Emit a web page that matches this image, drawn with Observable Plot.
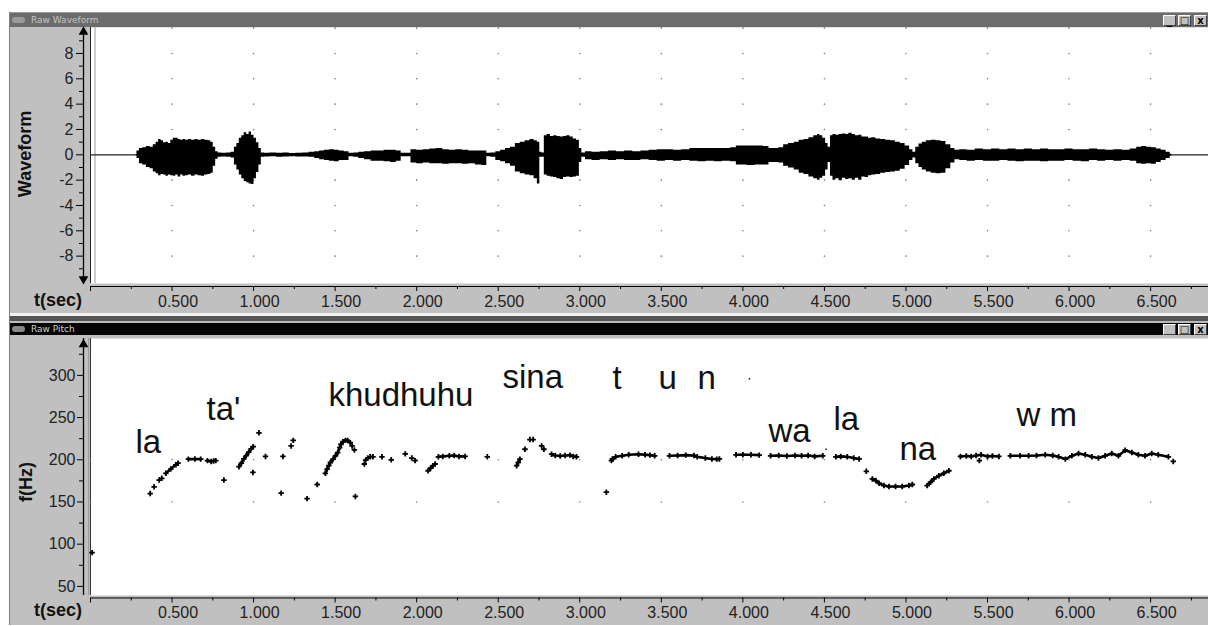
<!DOCTYPE html>
<html><head><meta charset="utf-8">
<script src="https://cdn.jsdelivr.net/npm/d3@7"></script>
<script src="https://cdn.jsdelivr.net/npm/@observablehq/plot@0.6"></script>
<style>
html,body{margin:0;padding:0;background:#fff}
body{width:1208px;height:626px;overflow:hidden;position:relative;font-family:"Liberation Sans",Arial,sans-serif}
.abs{position:absolute}
.tbar{position:absolute;left:10px;width:1198px;height:15px;overflow:hidden}
.ttxt{position:absolute;left:21px;top:1px;font-size:9px;line-height:13px;font-family:"DejaVu Sans",sans-serif}
.ico{position:absolute;left:2px;top:4px;width:13px;height:6px;background:#9a9a9a;border-radius:3px}
.btn{position:absolute;top:2px;width:13px;height:11px;background:#c0c0c0;border-top:1px solid #fff;border-left:1px solid #fff;border-right:1px solid #404040;border-bottom:1px solid #404040;box-sizing:border-box;font:bold 10px/9px "DejaVu Sans",sans-serif;color:#000;text-align:center}
.lab{position:absolute;font-weight:bold;font-size:18px;color:#111;white-space:nowrap}
.rot{transform:translate(-50%,-50%) rotate(-90deg)}
</style></head><body>
<div class="abs" style="left:9px;top:12px;width:1px;height:613px;background:#808080"></div>
<div class="abs" style="left:10px;top:12px;width:1198px;height:613px;background:#c0c0c0"></div>
<div class="tbar" style="top:12px;background:#6c6c6c;border-top:1px solid #9c9c9c;box-sizing:border-box">
  <div class="ico"></div><div class="ttxt" style="color:#c4c4c4">Raw Waveform</div>
  <div class="btn" style="left:1153px">_</div><div class="btn" style="left:1168px">□</div><div class="btn" style="left:1184px">x</div>
</div>
<div id="top" class="abs" style="left:10px;top:27px"></div>
<div class="abs" style="left:10px;top:313px;width:1198px;height:3px;background:#f2f2f2"></div>
<div class="abs" style="left:10px;top:316px;width:1198px;height:5px;background:#555"></div>
<div class="abs" style="left:10px;top:321px;width:1198px;height:2px;background:#bbb"></div>
<div class="tbar" style="top:323px;height:12px;background:#050505">
  <div class="ico" style="top:3px;background:#888"></div><div class="ttxt" style="color:#d0d0d0;top:0px;line-height:12px">Raw Pitch</div>
  <div class="btn" style="left:1153px;top:1px">_</div><div class="btn" style="left:1168px;top:1px">□</div><div class="btn" style="left:1184px;top:1px">x</div>
</div>
<div id="bot" class="abs" style="left:10px;top:335px"></div>
<div class="lab rot" style="left:25px;top:154px">Waveform</div>
<div class="lab" style="left:0;width:82px;text-align:right;top:289px;line-height:22px">t(sec)</div>
<div class="lab rot" style="left:26px;top:482px">f(Hz)</div>
<div class="lab" style="left:0;width:82px;text-align:right;top:599px;line-height:22px">t(sec)</div>
<script>
// ---------- axes / ticks ----------
const xDomain = [0, 6.855];
const xTickValues = [0.5, 1.0, 1.5, 2.0, 2.5, 3.0, 3.5, 4.0, 4.5, 5.0, 5.5, 6.0, 6.5];
const xTickText = ["0.500","1.000","1.500","2.000","2.500","3.000","3.500","4.000","4.500","5.000","5.500","6.000","6.500"];
const xMajorMarks = [0, 0.5, 1.0, 1.5, 2.0, 2.5, 3.0, 3.5, 4.0, 4.5, 5.0, 5.5, 6.0, 6.5];
const xMinorMarks = [0.25, 0.75, 1.25, 1.75, 2.25, 2.75, 3.25, 3.75, 4.25, 4.75, 5.25, 5.75, 6.25, 6.75];

const waveDomain = [-10.16, 10.05];
const waveTickValues = [-8, -6, -4, -2, 0, 2, 4, 6, 8];
const waveMinorTicks = [-9, -7, -5, -3, -1, 1, 3, 5, 7, 9];
const waveGridX = [0.5, 1.0, 1.5, 2.0, 2.5, 3.0, 3.5, 4.0, 4.5, 5.0, 5.5, 6.0, 6.5];
const waveGridY = [10, 8, 6, 4, 2, -2, -4, -6, -8];

const pitchDomain = [39.2, 343.7];
const pitchTickValues = [50, 100, 150, 200, 250, 300];
const pitchMinorTicks = [75, 125, 175, 225, 275, 325];
const pitchGridX = [0, 0.5, 1.0, 1.5, 2.0, 2.5, 3.0, 3.5, 4.0, 4.5, 5.0, 5.5, 6.0, 6.5];
const pitchGridY = [150, 200];

// ---------- waveform envelope (seconds, upper, lower) ----------
const waveTime = [0.28,0.29,0.31,0.33,0.355,0.375,0.395,0.41,0.425,0.44,0.455,0.47,0.485,0.50,0.515,0.53,0.545,0.56,0.575,0.59,0.61,0.63,0.65,0.67,0.69,0.71,0.73,0.745,0.76,0.775,
0.79,0.82,0.85,0.875,0.89,0.905,0.92,0.935,0.95,0.965,0.98,0.995,1.01,1.025,1.04,1.055,
1.08,1.12,1.16,1.20,1.24,1.28,1.32,1.36,1.39,1.42,1.45,1.48,1.51,1.54,1.57,1.60,
1.63,1.66,1.70,1.74,1.78,1.82,1.86,1.89,1.92,1.95,1.98,2.02,2.06,2.10,2.14,2.18,2.22,2.26,2.30,2.34,2.38,2.42,2.44,2.47,
2.50,2.53,2.56,2.59,2.62,2.65,2.68,2.71,2.73,2.75,2.76,2.775,2.79,2.81,2.83,2.85,2.87,2.89,2.91,2.93,2.95,2.97,2.99,3.005,3.02,
3.05,3.10,3.15,3.20,3.25,3.30,3.35,3.40,3.45,3.50,3.55,3.60,3.65,3.70,3.75,3.80,3.85,3.90,3.95,3.97,4.00,4.05,4.10,4.15,4.17,4.20,4.24,
4.26,4.30,4.33,4.36,4.39,4.42,4.45,4.465,4.48,4.50,4.515,4.53,4.545,4.56,4.58,4.60,4.62,4.64,4.66,4.68,4.70,4.72,4.74,4.76,4.78,4.80,4.83,4.86,4.89,4.92,4.95,4.98,5.01,5.035,5.05,
5.07,5.09,5.11,5.14,5.17,5.20,5.23,5.26,5.29,5.31,
5.35,5.40,5.45,5.50,5.55,5.60,5.65,5.70,5.75,5.80,5.85,5.90,5.95,6.00,6.05,6.10,6.15,6.20,6.25,6.30,6.35,6.40,6.43,6.46,6.49,6.52,6.55,6.58,6.61,6.63];
const waveMax = [0.05,0.3,0.5,0.55,0.65,0.6,0.8,1.0,1.2,1.1,0.95,1.0,0.9,1.15,1.3,1.3,1.2,1.15,1.2,1.15,1.2,1.15,1.2,1.15,1.2,1.15,1.1,1.0,0.6,0.25,
0.15,0.12,0.15,0.2,0.6,0.9,1.3,1.5,1.75,1.6,1.8,1.55,1.3,0.95,0.5,0.15,
0.12,0.15,0.12,0.15,0.1,0.12,0.15,0.2,0.25,0.3,0.35,0.4,0.35,0.3,0.25,0.12,
0.15,0.2,0.25,0.3,0.3,0.35,0.35,0.3,0.12,0.12,0.4,0.35,0.4,0.45,0.5,0.4,0.35,0.4,0.35,0.3,0.3,0.3,0.12,0.15,
0.25,0.35,0.5,0.6,0.9,1.0,1.1,1.2,1.1,1.0,0.2,0.15,1.5,1.6,1.45,1.5,1.45,1.4,1.45,1.5,1.4,1.25,1.15,0.5,0.15,
0.25,0.2,0.25,0.3,0.25,0.3,0.25,0.3,0.35,0.4,0.4,0.35,0.4,0.5,0.5,0.5,0.5,0.5,0.55,0.7,0.7,0.7,0.7,0.65,0.5,0.5,0.55,
0.8,0.9,1.0,1.15,1.2,1.35,1.5,1.6,1.5,1.3,0.9,0.6,1.5,1.6,1.55,1.6,1.65,1.6,1.7,1.6,1.5,1.55,1.4,1.4,1.3,1.35,1.25,1.2,1.15,1.1,1.0,0.9,0.7,0.4,0.2,
0.6,0.85,1.0,1.1,1.15,1.1,1.05,0.8,0.5,0.35,
0.4,0.35,0.45,0.4,0.45,0.4,0.45,0.4,0.45,0.4,0.45,0.4,0.4,0.45,0.4,0.4,0.45,0.4,0.35,0.4,0.35,0.45,0.6,0.65,0.6,0.55,0.45,0.35,0.2,0.05];
const waveMin = [-0.05,-0.3,-0.7,-0.8,-1.0,-1.1,-1.35,-1.5,-1.65,-1.55,-1.6,-1.7,-1.6,-1.65,-1.7,-1.6,-1.75,-1.6,-1.7,-1.65,-1.6,-1.7,-1.6,-1.65,-1.7,-1.6,-1.55,-1.45,-0.9,-0.35,
-0.2,-0.18,-0.2,-0.25,-0.8,-1.2,-1.6,-1.9,-2.1,-2.2,-2.3,-2.35,-1.9,-1.4,-0.8,-0.2,
-0.18,-0.15,-0.2,-0.18,-0.15,-0.18,-0.18,-0.2,-0.3,-0.4,-0.45,-0.5,-0.55,-0.45,-0.45,-0.15,
-0.2,-0.3,-0.4,-0.5,-0.5,-0.55,-0.6,-0.5,-0.15,-0.15,-0.65,-0.7,-0.65,-0.7,-0.7,-0.75,-0.7,-0.7,-0.75,-0.7,-0.8,-0.85,-0.15,-0.2,
-0.45,-0.55,-0.7,-0.9,-1.35,-1.5,-1.6,-1.65,-1.9,-2.3,-0.2,-0.2,-1.6,-1.7,-1.75,-1.8,-1.9,-1.95,-1.8,-1.75,-1.8,-1.75,-1.7,-0.6,-0.2,
-0.4,-0.45,-0.4,-0.45,-0.4,-0.45,-0.45,-0.4,-0.45,-0.5,-0.45,-0.5,-0.45,-0.5,-0.55,-0.5,-0.55,-0.5,-0.55,-0.8,-0.8,-0.85,-0.8,-0.8,-0.6,-0.6,-0.65,
-0.9,-1.05,-1.2,-1.45,-1.55,-1.75,-1.9,-2.0,-1.85,-1.7,-1.2,-0.6,-1.7,-2.0,-1.9,-2.05,-1.85,-1.95,-1.9,-2.0,-1.85,-2.0,-1.75,-1.8,-1.65,-1.6,-1.55,-1.45,-1.4,-1.35,-1.3,-1.15,-0.85,-0.45,-0.25,
-0.7,-1.0,-1.2,-1.35,-1.45,-1.5,-1.45,-1.1,-0.65,-0.4,
-0.45,-0.5,-0.45,-0.5,-0.5,-0.45,-0.5,-0.55,-0.5,-0.5,-0.55,-0.5,-0.5,-0.45,-0.5,-0.55,-0.45,-0.5,-0.45,-0.5,-0.45,-0.5,-0.7,-0.75,-0.7,-0.75,-0.6,-0.45,-0.3,-0.1];

// ---------- pitch track (seconds, Hz, run id; 0 = isolated estimate) ----------
const pitchTime = [0.01,0.366,0.39,0.421,0.437,0.462,0.492,0.523,0.537,
0.60,0.64,0.676,0.717,0.74,0.755,0.768,0.818,
0.91,0.925,0.94,0.955,0.97,0.985,0.998,0.996,1.033,1.073,1.169,1.18,1.23,1.243,1.328,1.39,
1.44,1.451,1.461,1.471,1.487,1.502,1.516,1.528,1.536,1.548,1.563,1.577,1.593,1.604,1.618,1.624,
1.679,1.687,1.70,1.715,1.732,1.787,1.844,1.93,1.97,1.99,
2.07,2.085,2.10,2.113,2.133,2.16,2.20,2.23,2.26,2.297,2.433,
2.613,2.623,2.633,2.664,2.694,2.714,2.766,2.78,
2.827,2.85,2.88,2.91,2.94,2.96,2.98,3.163,
3.194,3.20,3.22,3.26,3.30,3.36,3.40,3.43,3.459,
3.55,3.60,3.65,3.70,3.72,3.77,3.81,3.84,3.856,
3.958,4.0,4.05,4.1,
4.17,4.22,4.27,4.32,4.36,4.40,4.44,4.49,
4.57,4.60,4.64,4.68,4.713,4.757,
4.794,4.815,4.835,4.865,4.896,4.936,4.977,5.018,5.039,
5.13,5.151,5.171,5.202,5.232,5.263,
5.334,5.37,5.40,5.43,5.46,5.50,5.53,5.57,5.45,
5.64,5.70,5.752,5.80,5.854,5.90,5.936,5.977,6.017,6.058,6.099,6.14,6.18,6.221,6.262,6.303,6.344,6.385,6.425,6.466,6.507,6.547,6.609,6.639];
const pitchHz = [90,160,168,176,178,184,189,194,196,
200.8,201,200.8,199,198,198.5,199,176,
191.8,196,201,205,209,213,215.6,185,232,204,160.5,204,216.4,223,154,170.7,
184,189,193,196.8,200.8,204.7,208.6,214.5,218.4,221.5,223,223,220.3,216.4,211.7,156.6,
195,199.6,202,203.5,203.5,203.5,200,207,202,199,
187,190,193,195,203.5,204,204.7,205,204,204,203.5,
193,197,200.8,212.5,224,224,216.4,212.5,
206.6,205,204.5,205,205.5,204,203.5,161.6,
199,201,203.5,204.7,205.9,206.6,206,205.5,204.7,
204.7,205,205.5,205,203.5,202,201,200.8,201,
205.9,206,205.9,205.5,
204.7,205,204.5,205,204.7,205,204,204.7,
203.5,204,203.5,202,201,186.3,
177.3,175.4,172.2,169.5,168.3,168.3,168.3,169.5,170.7,
169.5,173.4,177.3,181.2,184,187,
204,204.5,204,205,205.9,204,204.5,204,199,
204.7,204.7,204.7,205,205.9,205,203.5,200.8,204.7,207.4,205.9,203.5,202,204.7,207.4,204.7,211.4,208.6,205.9,204.7,207.4,205.9,203.5,198];
const pitchRun = [0,0,0,0,0,1,1,1,1,
2,2,2,3,3,3,3,0,
4,4,4,4,4,4,4,0,0,0,0,0,0,0,0,0,
5,5,5,5,5,5,5,5,5,5,5,5,5,0,0,0,
0,6,6,6,6,0,0,0,0,0,
7,7,7,7,8,8,8,8,8,8,0,
9,9,9,0,0,0,0,0,
10,10,10,10,10,10,10,0,
11,11,11,11,11,11,11,11,11,
12,12,12,12,12,12,12,12,12,
13,13,13,13,
14,14,14,14,14,14,14,14,
15,15,15,15,15,0,
16,16,16,16,16,16,16,16,16,
17,17,17,17,17,17,
18,18,18,18,18,18,18,18,0,
19,19,19,19,19,19,19,19,19,19,19,19,19,19,19,19,19,19,19,19,19,19,19,0];
const faintTime = [4.04, 4.51];
const faintHz = [296, 212.5];

// ---------- syllable labels (left edge, baseline) ----------
const syllText = ["la", "ta'", "khudhuhu", "sina", "t", "u", "n", "wa", "la", "na", "w m"];
const syllTime = [0.276, 0.711, 1.459, 2.526, 3.20, 3.483, 3.722, 4.157, 4.555, 4.96, 5.677];
const syllHz = [207.5, 247.7, 264.3, 284.5, 283.3, 283.3, 283.3, 220.6, 234.7, 199.2, 240.6];

// ---------- tables ----------
const wave = waveTime.map((t, i) => ({t, hi: waveMax[i], lo: waveMin[i]}));
const pitch = pitchTime.map((t, i) => ({t, f: pitchHz[i], run: pitchRun[i]}));
const faint = faintTime.map((t, i) => ({t, f: faintHz[i]}));
const syll = syllText.map((s, i) => ({s, t: syllTime[i], f: syllHz[i]}));
const gridTop = waveGridX.flatMap(x => waveGridY.map(y => ({x, y})));
const gridBot = pitchGridX.flatMap(x => pitchGridY.map(y => ({x, y})));
const xLab = d => xTickText[xTickValues.indexOf(d)];

const FONT = "'Liberation Sans', Arial, sans-serif";
function xAxisMarks(yMin, lineDy, labelPad) {
  return [
    Plot.ruleY([yMin], {dy: lineDy, stroke: "#000", strokeWidth: 1}),
    Plot.axisX({ticks: xMajorMarks, tickSize: 5, text: null, dy: lineDy, label: null, stroke: "#000"}),
    Plot.axisX({ticks: xMinorMarks, tickSize: 3, text: null, dy: lineDy, label: null, stroke: "#000"}),
    Plot.axisX({ticks: xTickValues, tickSize: 0, tickPadding: labelPad, tickFormat: xLab, dx: 6, label: null, fontSize: 16, fill: "#222"})
  ];
}

const topChart = Plot.plot({
  width: 1198, height: 286,
  marginLeft: 80, marginRight: 0, marginTop: 0, marginBottom: 30,
  x: {domain: xDomain, label: null},
  y: {domain: waveDomain, label: null},
  style: {background: "#c0c0c0", fontFamily: FONT, fontSize: "16px", color: "#000", overflow: "visible"},
  marks: [
    Plot.frame({fill: "white", stroke: null}),
    Plot.dot(gridTop, {x: "x", y: "y", r: 0.8, fill: "#777", stroke: null}),
    Plot.ruleX([0], {stroke: "#222", strokeWidth: 1}),
    Plot.ruleX([0], {dx: 4.5, stroke: "#9a9a9a", strokeWidth: 1}),
    Plot.ruleY([0], {stroke: "#222", strokeWidth: 1.3}),
    Plot.areaY(wave, {x: "t", y1: "lo", y2: "hi", fill: "#000", curve: "step"}),
    Plot.ruleX([0], {dx: -7, stroke: "#000", strokeWidth: 1.3}),
    Plot.dot([waveDomain[1]], {x: () => 0, y: d => d, dx: -7, dy: 4.5, symbol: "triangle", r: 3.6, fill: "#000", stroke: null}),
    Plot.dot([waveDomain[0]], {x: () => 0, y: d => d, dx: -7, dy: -4.5, symbol: "triangle", rotate: 180, r: 3.6, fill: "#000", stroke: null}),
    Plot.axisY({anchor: "left", ticks: waveTickValues, tickSize: 7, tickPadding: 3, dx: -7, label: null, tickFormat: d => String(d), fontSize: 16, fill: "#222"}),
    Plot.axisY({anchor: "left", ticks: waveMinorTicks, tickSize: 4, text: null, dx: -7, label: null}),
    ...xAxisMarks(waveDomain[0], 3, 12)
  ]
});
document.getElementById("top").append(topChart);

const botChart = Plot.plot({
  width: 1198, height: 290,
  marginLeft: 80, marginRight: 0, marginTop: 3, marginBottom: 30,
  x: {domain: xDomain, label: null},
  y: {domain: pitchDomain, label: null},
  style: {background: "#c0c0c0", fontFamily: FONT, fontSize: "16px", color: "#000", overflow: "visible"},
  marks: [
    Plot.frame({fill: "white", stroke: null}),
    Plot.ruleX([0], {dx: -2, stroke: "#9a9a9a", strokeWidth: 1}),
    Plot.ruleX([0], {stroke: "#333", strokeWidth: 1}),
    Plot.dot(gridBot, {x: "x", y: "y", r: 0.8, fill: "#777", stroke: null}),
    Plot.line(pitch.filter(d => d.run > 0), {x: "t", y: "f", z: "run", stroke: "#000", strokeWidth: 2.6}),
    Plot.dot(pitch, {x: "t", y: "f", symbol: "plus", r: 1.9, stroke: "#000", strokeWidth: 1.8}),
    Plot.dot(faint, {x: "t", y: "f", r: 0.9, fill: "#333", stroke: null}),
    Plot.text(syll, {x: "t", y: "f", text: "s", textAnchor: "start", lineAnchor: "bottom", fontSize: 33, fill: "#111", fontFamily: FONT}),
    Plot.ruleX([0], {dx: -7, stroke: "#000", strokeWidth: 1.3}),
    Plot.dot([pitchDomain[1]], {x: () => 0, y: d => d, dx: -7, dy: 6, symbol: "triangle", r: 3.6, fill: "#000", stroke: null}),
    Plot.axisY({anchor: "left", ticks: pitchTickValues, tickSize: 6, tickPadding: 2, dx: -7, label: null, tickFormat: d => String(d), fontSize: 16, fill: "#222"}),
    Plot.axisY({anchor: "left", ticks: pitchMinorTicks, tickSize: 4, text: null, dx: -7, label: null}),
    ...xAxisMarks(pitchDomain[0], 2.5, 11)
  ]
});
document.getElementById("bot").append(botChart);
</script>
</body></html>
